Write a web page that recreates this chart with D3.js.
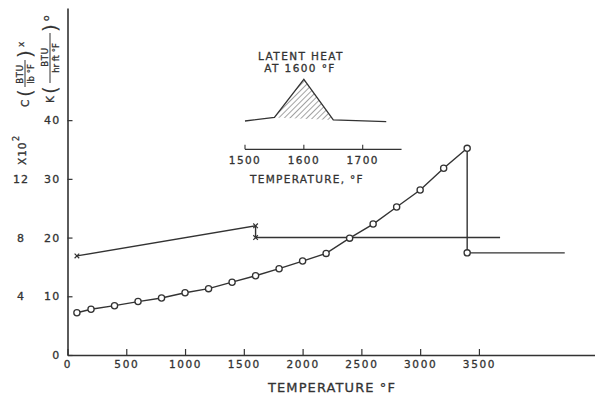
<!DOCTYPE html>
<html>
<head>
<meta charset="utf-8">
<script src="https://cdn.jsdelivr.net/npm/d3@7"></script>
<style>
  html, body { margin: 0; padding: 0; background: #fff; }
  svg { display: block; }
  text { font-family: "DejaVu Sans", sans-serif; fill: #333; stroke: #333; stroke-width: 0.3px; }
</style>
</head>
<body>
<svg id="chart" width="595" height="397"></svg>
<script>
// Thermal conductivity K (circles) versus temperature, solid then liquid
const kSolidTemp = [80, 200, 400, 600, 800, 1000, 1200, 1400, 1600, 1800, 2000, 2200, 2400, 2600, 2800, 3000, 3200, 3400];
const kSolidVal  = [7.2, 7.8, 8.4, 9.1, 9.7, 10.6, 11.3, 12.4, 13.5, 14.7, 16.0, 17.3, 19.9, 22.3, 25.2, 28.1, 31.8, 35.2];
const kLiquidTemp = [3400, 4230];
const kLiquidVal  = [17.4, 17.4];

// Specific heat C x10^2 (crosses)
const cSolidTemp = [80, 1600];
const cSolidVal  = [6.75, 8.8];
const cLiquidTemp = [1600, 3680];
const cLiquidVal  = [8.0, 8.0];

// Axis ticks
const xTicks = [0, 500, 1000, 1500, 2000, 2500, 3000, 3500];
const kTicks = [0, 10, 20, 30, 40];
const cTicks = [4, 8, 12];

// Latent heat inset
const latentTemp = [1500, 1550, 1600, 1650, 1740];
const latentVal  = [0.88, 1.4, 7.0, 1.03, 0.78];
const insetTicks = [1500, 1600, 1700];

const INK = "#333";
const svg = d3.select("#chart");

const x = d3.scaleLinear().domain([0, 4530]).range([67.5, 600]);
const yK = d3.scaleLinear().domain([0, 59.1]).range([355, 8]);
const yC = d3.scaleLinear().domain([0, 59.1 / 2.5]).range([355, 8]);

// hatch pattern for the latent heat area
const defs = svg.append("defs");
const pat = defs.append("pattern")
  .attr("id", "hatch").attr("patternUnits", "userSpaceOnUse")
  .attr("width", 4).attr("height", 4)
  .attr("patternTransform", "rotate(45)");
pat.append("line").attr("x1", 0).attr("y1", 0).attr("x2", 0).attr("y2", 4)
  .attr("stroke", INK).attr("stroke-width", 0.9);

// X axis
const gx = svg.append("g").attr("transform", "translate(0,355)")
  .call(d3.axisBottom(x).tickValues(xTicks).tickSizeInner(-6).tickSizeOuter(0).tickPadding(6)
    .tickFormat(d3.format("d")));
gx.select(".domain").attr("stroke", INK).attr("stroke-width", 1.6);
gx.selectAll(".tick line").attr("stroke", INK).attr("stroke-width", 1.2);
gx.selectAll(".tick text").attr("font-size", 10.5).attr("letter-spacing", 1.6).attr("fill", INK);

// K axis
const gy = svg.append("g").attr("transform", "translate(67.5,0)")
  .call(d3.axisLeft(yK).tickValues(kTicks).tickSizeInner(-5).tickSizeOuter(0).tickPadding(7));
gy.select(".domain").attr("stroke", INK).attr("stroke-width", 1.6);
gy.selectAll(".tick line").attr("stroke", INK).attr("stroke-width", 1.2);
gy.selectAll(".tick text").attr("font-size", 11).attr("letter-spacing", 1.2).attr("fill", INK);

// C scale labels (no line)
const gc = svg.append("g").attr("transform", "translate(21,0)")
  .call(d3.axisLeft(yC).tickValues(cTicks).tickSize(0).tickPadding(0));
gc.select(".domain").remove();
gc.selectAll(".tick text").attr("text-anchor", "middle").attr("x", 0)
  .attr("font-size", 11).attr("letter-spacing", 1).attr("fill", INK);

// X axis title
svg.append("text").attr("x", 332).attr("y", 391.5).attr("text-anchor", "middle")
  .attr("font-size", 13).attr("letter-spacing", 1.1).text("TEMPERATURE °F");

// Rotated y-axis titles
function rotatedLabel(cx, baseY, parts) {
  const g = svg.append("g").attr("transform", `translate(${cx},${baseY}) rotate(-90)`);
  parts.forEach(p => {
    if (p.bar) {
      g.append("line").attr("x1", p.x).attr("x2", p.x + p.w).attr("y1", 0).attr("y2", 0)
        .attr("stroke", INK).attr("stroke-width", 1);
      return;
    }
    g.append("text").attr("x", p.x).attr("y", p.y || 0)
      .attr("dominant-baseline", "central")
      .attr("text-anchor", p.anchor || "start")
      .attr("font-size", p.size).attr("letter-spacing", p.ls || 0)
      .style("stroke-width", p.size > 15 ? "0.1px" : null)
      .text(p.t);
  });
}

rotatedLabel(25, 107, [
  { t: "C", x: 0, size: 10.5 },
  { t: "(", x: 10, size: 20 },
  { t: "BTU", x: 33, y: -5.5, size: 8.5, anchor: "middle", ls: 0.8 },
  { bar: true, x: 20, w: 27 },
  { t: "lb °F", x: 33, y: 6, size: 8.5, anchor: "middle" },
  { t: ")", x: 49, size: 20 },
  { t: "x", x: 60, y: -4, size: 9 }
]);

rotatedLabel(50, 103, [
  { t: "K", x: 0, size: 10.5 },
  { t: "(", x: 9, size: 20 },
  { t: "BTU", x: 46, y: -5.5, size: 8.5, anchor: "middle", ls: 0.8 },
  { bar: true, x: 20, w: 50 },
  { t: "hr ft °F", x: 45, y: 6, size: 8.5, anchor: "middle" },
  { t: ")", x: 71, size: 20 },
  { t: "o", x: 82, y: -4, size: 9 }
]);

rotatedLabel(22, 165, [
  { t: "X10", x: 0, size: 10.5, ls: 1 },
  { t: "2", x: 24, y: -6, size: 8 }
]);

// data lines
const pts = (ts, vs) => ts.map((t, i) => ({ t, v: vs[i] }));
const kLine = d3.line().x(d => x(d.t)).y(d => yK(d.v));
const cLine = d3.line().x(d => x(d.t)).y(d => yC(d.v));

const kAll = pts(kSolidTemp, kSolidVal).concat(pts(kLiquidTemp, kLiquidVal));
const cAll = pts(cSolidTemp, cSolidVal).concat(pts(cLiquidTemp, cLiquidVal));

svg.append("path").datum(cAll).attr("d", cLine)
  .attr("fill", "none").attr("stroke", INK).attr("stroke-width", 1.4);
svg.append("path").datum(kAll).attr("d", kLine)
  .attr("fill", "none").attr("stroke", INK).attr("stroke-width", 1.4);

// circle markers for K
const kMarks = pts(kSolidTemp, kSolidVal).concat(pts(kLiquidTemp.slice(0, 1), kLiquidVal.slice(0, 1)));
svg.append("g").selectAll("circle").data(kMarks).join("circle")
  .attr("cx", d => x(d.t)).attr("cy", d => yK(d.v)).attr("r", 3.1)
  .attr("fill", "#fff").attr("stroke", INK).attr("stroke-width", 1.3);

// cross markers for C
const cMarks = pts(cSolidTemp, cSolidVal).concat(pts(cLiquidTemp.slice(0, 1), cLiquidVal.slice(0, 1)));
const s = 2.3;
svg.append("g").selectAll("path").data(cMarks).join("path")
  .attr("d", d => {
    const px = x(d.t), py = yC(d.v);
    return `M${px - s},${py - s}L${px + s},${py + s}M${px - s},${py + s}L${px + s},${py - s}`;
  })
  .attr("stroke", INK).attr("stroke-width", 1.2).attr("fill", "none");

// Inset: latent heat at 1600 °F
const ix = d3.scaleLinear().domain([1500, 1700]).range([245, 362.7]);
const iy = d3.scaleLinear().domain([0, 7]).range([127, 79.3]);
const latent = pts(latentTemp, latentVal);

svg.append("path").datum(latent.slice(1, 4))
  .attr("d", d => d3.line().x(p => ix(p.t)).y(p => iy(p.v))(d) + "Z")
  .attr("fill", "url(#hatch)").attr("stroke", "none");
svg.append("path").datum(latent)
  .attr("d", d3.line().x(p => ix(p.t)).y(p => iy(p.v)))
  .attr("fill", "none").attr("stroke", INK).attr("stroke-width", 1.3);

const gi = svg.append("g").attr("transform", "translate(0,149.3)");
gi.append("line").attr("x1", ix(1500)).attr("x2", ix(1766)).attr("stroke", INK).attr("stroke-width", 1.3);
gi.selectAll("line.t").data(insetTicks).join("line").attr("class", "t")
  .attr("x1", d => ix(d)).attr("x2", d => ix(d)).attr("y1", 0).attr("y2", -4.5)
  .attr("stroke", INK).attr("stroke-width", 1.1);
gi.selectAll("text").data(insetTicks).join("text")
  .attr("x", d => ix(d)).attr("y", 14.5).attr("text-anchor", "middle")
  .attr("font-size", 10.5).attr("letter-spacing", 1.4).text(d => d);

svg.append("text").attr("x", 307).attr("y", 182.5).attr("text-anchor", "middle")
  .attr("font-size", 10.5).attr("letter-spacing", 1.3).text("TEMPERATURE, °F");
svg.append("text").attr("x", 301).attr("y", 59.5).attr("text-anchor", "middle")
  .attr("font-size", 10.5).attr("letter-spacing", 1.4).text("LATENT HEAT");
svg.append("text").attr("x", 300).attr("y", 72).attr("text-anchor", "middle")
  .attr("font-size", 10.5).attr("letter-spacing", 1.4).text("AT 1600 °F");
</script>
</body>
</html>
